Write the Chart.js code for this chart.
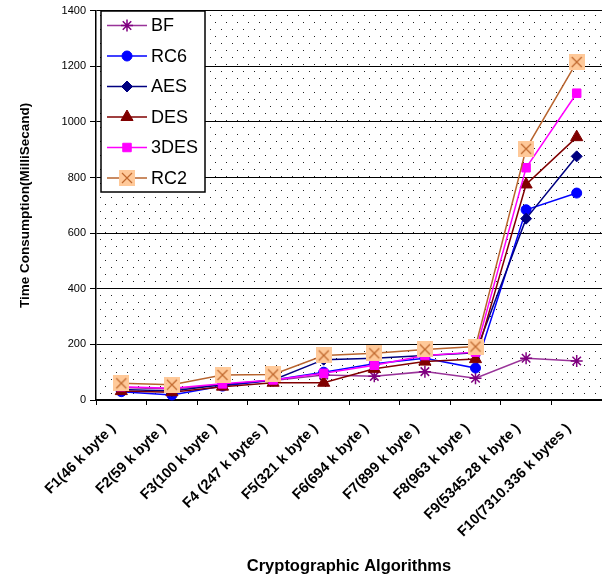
<!DOCTYPE html>
<html>
<head>
<meta charset="utf-8">
<script src="https://cdn.jsdelivr.net/npm/chart.js@4/dist/chart.umd.min.js"></script>
<style>
html,body{margin:0;padding:0;background:#fff;}
#wrap{width:602px;height:576px;}
</style>
</head>
<body>
<div id="wrap"><canvas id="c" width="602" height="576"></canvas></div>
<script>
const categories = ["F1(46 k byte )","F2(59 k byte )","F3(100 k byte )","F4 (247 k bytes )","F5(321 k byte )","F6(694 k byte )","F7(899 k byte )","F8(963 k byte )","F9(5345.28 k byte )","F10(7310.336 k bytes )"];
const seriesNames = ["BF","RC6","AES","DES","3DES","RC2"];
const bf    = [45, 40, 55, 70, 90, 85, 102, 78, 150, 140];
const rc6   = [30, 18, 50, 72, 100, 130, 150, 115, 684, 744];
const aes   = [38, 32, 55, 72, 145, 150, 160, 170, 652, 876];
const des   = [32, 28, 48, 62, 62, 112, 138, 147, 775, 945];
const tdes  = [48, 42, 58, 72, 96, 125, 160, 172, 835, 1103];
const rc2   = [60, 55, 90, 92, 160, 168, 182, 192, 903, 1215];
const yMin = 0, yMax = 1400, yStep = 200;

function makeRc2Marker(){
  const cv = document.createElement('canvas');
  cv.width = 16; cv.height = 16;
  const g = cv.getContext('2d');
  g.fillStyle = '#FFC999';
  g.fillRect(0,0,16,16);
  g.strokeStyle = '#C0682E';
  g.lineWidth = 1.2;
  g.beginPath();
  g.moveTo(3,3); g.lineTo(13,13);
  g.moveTo(13,3); g.lineTo(3,13);
  g.stroke();
  return cv;
}
const rc2Marker = makeRc2Marker();

function makeDotPattern(ctx){
  const cv = document.createElement('canvas');
  cv.width = 11; cv.height = 14;
  const g = cv.getContext('2d');
  g.fillStyle = '#fff'; g.fillRect(0,0,11,14);
  g.fillStyle = '#222';
  g.fillRect(1,1,1,1);
  g.fillRect(6,8,1,1);
  return ctx.createPattern(cv,'repeat');
}

const styles = [
  {data: bf,   line:'#993399', point:'#800080', pointStyle:'star',     radius:6, order:5},
  {data: rc6,  line:'#0000FF', point:'#0000FF', pointStyle:'circle',   radius:5, order:4},
  {data: aes,  line:'#000080', point:'#000080', pointStyle:'rectRot',  radius:5.5, order:3},
  {data: des,  line:'#800000', point:'#800000', pointStyle:'triangle', radius:7, order:2},
  {data: tdes, line:'#FF00FF', point:'#FF00FF', pointStyle:'rect',     radius:6, order:1},
  {data: rc2,  line:'#B8642E', point:'#B8642E', pointStyle:rc2Marker,  radius:8, order:0}
];

const datasets = styles.map((s,i)=>({
  label: seriesNames[i],
  data: s.data,
  borderColor: s.line,
  borderWidth: 1.5,
  backgroundColor: s.point,
  pointBackgroundColor: s.point,
  pointBorderColor: s.point,
  pointBorderWidth: s.pointStyle==='star' ? 1.5 : 1,
  pointStyle: s.pointStyle,
  pointRadius: s.radius,
  tension: 0,
  clip: false,
  order: s.order
}));

const bgPlugin = {
  id:'bgdots',
  beforeDraw(chart){
    const {ctx, chartArea:a} = chart;
    ctx.save();
    ctx.fillStyle = makeDotPattern(ctx);
    ctx.fillRect(a.left, a.top, a.right-a.left, a.bottom-a.top);
    ctx.restore();
  }
};

const legendPlugin = {
  id:'boxlegend',
  afterDraw(chart){
    const ctx = chart.ctx;
    ctx.save();
    ctx.fillStyle = '#fff';
    ctx.fillRect(101, 11, 104, 181);
    ctx.strokeStyle = '#000';
    ctx.lineWidth = 1.5;
    ctx.strokeRect(101, 11, 104, 181);
    styles.forEach((s,i)=>{
      const y = 25.5 + i*30.5;
      ctx.strokeStyle = s.line;
      ctx.lineWidth = 1.5;
      ctx.beginPath(); ctx.moveTo(107,y); ctx.lineTo(147,y); ctx.stroke();
      ctx.fillStyle = s.point;
      ctx.strokeStyle = s.point;
      ctx.lineWidth = s.pointStyle==='star' ? 1.5 : 1;
      Chart.helpers.drawPoint(ctx, {pointStyle:s.pointStyle, radius:s.radius, rotation:0, borderWidth:ctx.lineWidth}, 127, y);
      ctx.fillStyle = '#000';
      ctx.font = '18px "Liberation Sans", Arial, sans-serif';
      ctx.textBaseline = 'middle';
      ctx.textAlign = 'left';
      ctx.fillText(seriesNames[i], 151, y+1);
    });
    ctx.restore();
  }
};

new Chart(document.getElementById('c'), {
  type:'line',
  data:{labels: categories, datasets},
  plugins:[bgPlugin, legendPlugin],
  options:{
    responsive:false,
    animation:false,
    layout:{autoPadding:false, padding:{top:10, right:0, left:0, bottom:0}},
    plugins:{legend:{display:false}, tooltip:{enabled:false}},
    scales:{
      x:{
        offset:true,
        afterFit(scale){ scale.height = 176; scale.paddingRight = 0; scale.paddingLeft = 0; },
        grid:{offset:true, drawOnChartArea:false, drawTicks:true, tickLength:5, color:'#000'},
        border:{color:'#000', width:1.5},
        ticks:{color:'#000', maxRotation:45, minRotation:45, autoSkip:false, padding:15, labelOffset:-8,
          font:{family:'"Liberation Sans", Arial, sans-serif', size:14.5, weight:'bold'}},
        title:{display:true, text:'Cryptographic Algorithms', color:'#000',
          font:{family:'"Liberation Sans", Arial, sans-serif', size:16.5, weight:'bold'}, padding:{top:1,bottom:0}}
      },
      y:{
        min:yMin, max:yMax,
        afterFit(scale){ scale.width = 96; },
        grid:{color:'#000', lineWidth:1, tickLength:6, drawTicks:true},
        border:{color:'#000', width:1.5},
        ticks:{stepSize:yStep, color:'#000', padding:4,
          callback:(v)=>String(v),
          font:{family:'"Liberation Sans Narrow", "Liberation Sans", Arial, sans-serif', size:11}},
        title:{display:true, text:'Time Consumption(MilliSecand)', color:'#000',
          font:{family:'"Liberation Sans", Arial, sans-serif', size:13.5, weight:'bold'}, padding:{top:17,bottom:0}}
      }
    }
  }
});
</script>
</body>
</html>
